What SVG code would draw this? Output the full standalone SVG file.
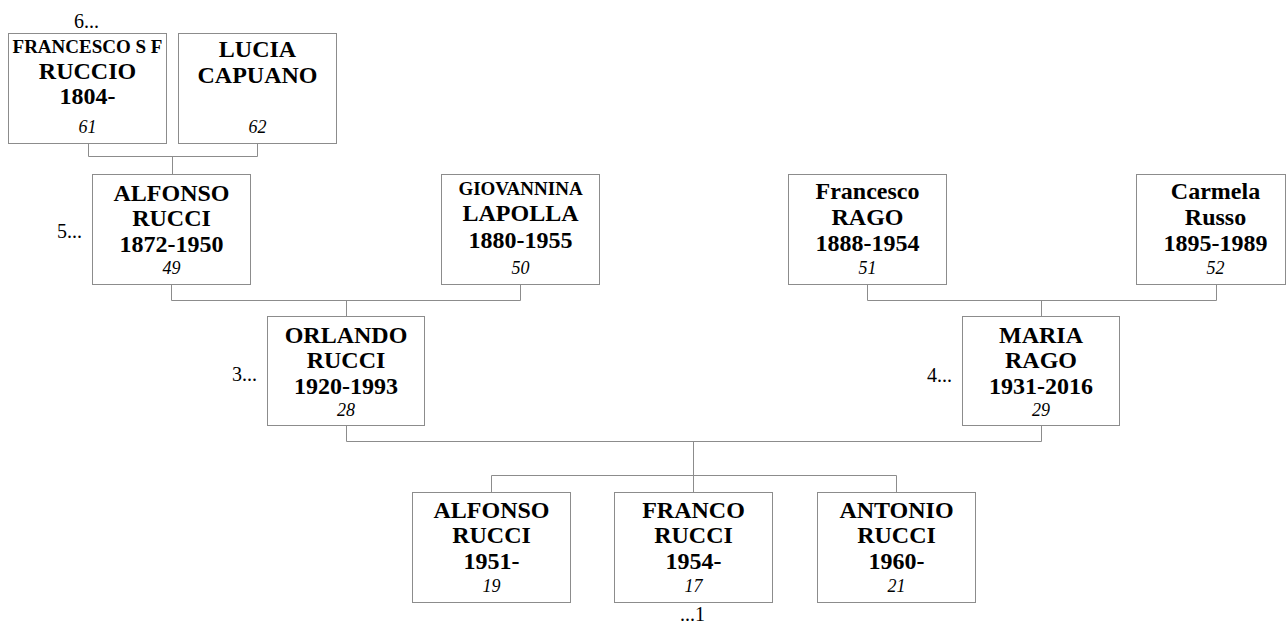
<svg xmlns="http://www.w3.org/2000/svg" width="1286" height="624" viewBox="0 0 1286 624">
<style>
.box{fill:#fff;stroke:#8c8c8c;stroke-width:1}
.ln{fill:none;stroke:#8c8c8c;stroke-width:1}
text{font-family:"Liberation Serif","Times New Roman",serif;fill:#000;text-anchor:middle}
.n{font-size:24px;font-weight:bold}
.s{font-size:19px;font-weight:bold}
.k{font-size:18px;font-style:italic}
.l{font-size:20px;text-anchor:start}
</style>
<rect width="1286" height="624" fill="#fff"/>
<g id="connectors">
<path class="ln" d="M88.5,143 V156.5 H257.5 V143 M172.5,156.5 V174"/>
<path class="ln" d="M171.5,284 V300.5 H520.5 V284 M346.5,300.5 V316"/>
<path class="ln" d="M867.5,284 V300.5 H1216.5 V284 M1041.5,300.5 V316"/>
<path class="ln" d="M346.5,425 V441.5 H1041.5 V425 M693.5,441.5 V492"/>
<path class="ln" d="M491.5,492 V475.5 H896.5 V492"/>
</g>
<g id="n61"><rect class="box" x="8.5" y="33.5" width="158" height="110"/><text class="s" x="87.5" y="53">FRANCESCO S F</text><text class="n" x="87.5" y="79">RUCCIO</text><text class="n" x="87.5" y="104">1804-</text><text class="k" x="87.5" y="133">61</text></g>
<g id="n62"><rect class="box" x="178.5" y="33.5" width="158" height="110"/><text class="n" x="257.5" y="57">LUCIA</text><text class="n" x="257.5" y="83">CAPUANO</text><text class="k" x="257.5" y="133">62</text></g>
<g id="n49"><rect class="box" x="92.5" y="174.5" width="158" height="110"/><text class="n" x="171.5" y="201">ALFONSO</text><text class="n" x="171.5" y="226">RUCCI</text><text class="n" x="171.5" y="252">1872-1950</text><text class="k" x="171.5" y="274">49</text></g>
<g id="n50"><rect class="box" x="441.5" y="174.5" width="158" height="110"/><text class="s" x="520.5" y="195">GIOVANNINA</text><text class="n" x="520.5" y="221">LAPOLLA</text><text class="n" x="520.5" y="248">1880-1955</text><text class="k" x="520.5" y="274">50</text></g>
<g id="n51"><rect class="box" x="788.5" y="174.5" width="158" height="110"/><text class="n" x="867.5" y="199">Francesco</text><text class="n" x="867.5" y="225">RAGO</text><text class="n" x="867.5" y="251">1888-1954</text><text class="k" x="867.5" y="274">51</text></g>
<g id="n52"><rect class="box" x="1136.5" y="174.5" width="149" height="110"/><text class="n" x="1215.5" y="199">Carmela</text><text class="n" x="1215.5" y="225">Russo</text><text class="n" x="1215.5" y="251">1895-1989</text><text class="k" x="1215.5" y="274">52</text></g>
<g id="n28"><rect class="box" x="267.5" y="316.5" width="157" height="109"/><text class="n" x="346" y="343">ORLANDO</text><text class="n" x="346" y="368">RUCCI</text><text class="n" x="346" y="394">1920-1993</text><text class="k" x="346" y="416">28</text></g>
<g id="n29"><rect class="box" x="962.5" y="316.5" width="157" height="109"/><text class="n" x="1041" y="343">MARIA</text><text class="n" x="1041" y="368">RAGO</text><text class="n" x="1041" y="394">1931-2016</text><text class="k" x="1041" y="416">29</text></g>
<g id="n19"><rect class="box" x="412.5" y="492.5" width="158" height="110"/><text class="n" x="491.5" y="518">ALFONSO</text><text class="n" x="491.5" y="543">RUCCI</text><text class="n" x="491.5" y="569">1951-</text><text class="k" x="491.5" y="592">19</text></g>
<g id="n17"><rect class="box" x="614.5" y="492.5" width="158" height="110"/><text class="n" x="693.5" y="518">FRANCO</text><text class="n" x="693.5" y="543">RUCCI</text><text class="n" x="693.5" y="569">1954-</text><text class="k" x="693.5" y="592">17</text></g>
<g id="n21"><rect class="box" x="817.5" y="492.5" width="158" height="110"/><text class="n" x="896.5" y="518">ANTONIO</text><text class="n" x="896.5" y="543">RUCCI</text><text class="n" x="896.5" y="569">1960-</text><text class="k" x="896.5" y="592">21</text></g>
<g id="labels">
<text class="l" x="74" y="28">6...</text>
<text class="l" x="57" y="238">5...</text>
<text class="l" x="232" y="381">3...</text>
<text class="l" x="927" y="382">4...</text>
<text class="l" x="680" y="621">...1</text>
</g>
</svg>
